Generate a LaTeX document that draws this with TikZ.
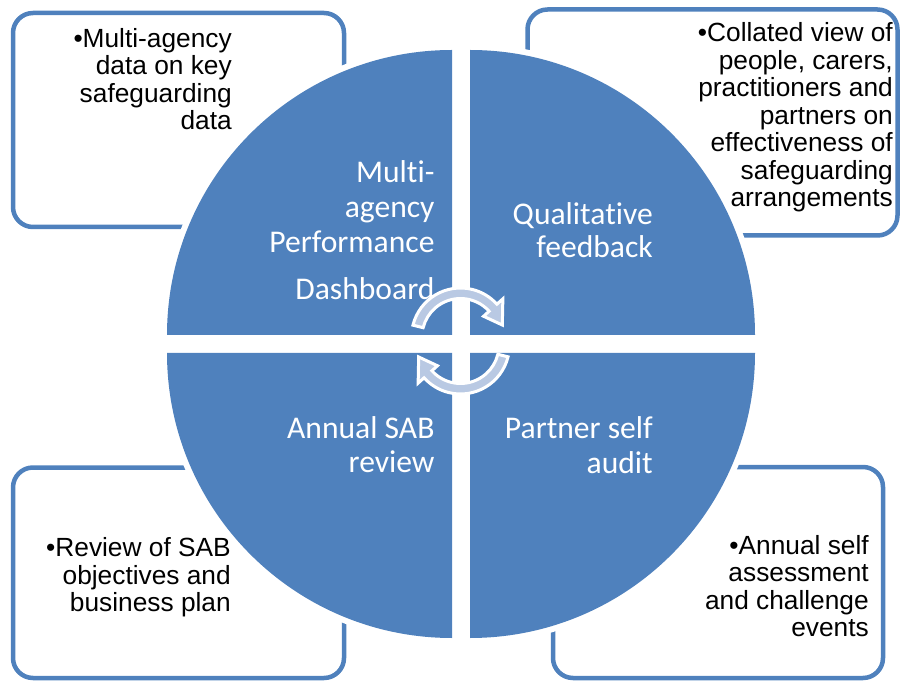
\documentclass[tikz,border=0pt]{standalone}
\usepackage{fontspec}
\setmainfont{Liberation Sans}
\newfontfamily\circfont[Ligatures=NoCommon]{Carlito}
\definecolor{qblue}{HTML}{4F81BD}
\definecolor{arrowfill}{HTML}{B9C9E3}
\begin{document}
\begin{tikzpicture}[x=1pt,y=1pt,
  box/.style={draw=qblue, line width=4.5pt, rounded corners=20pt},
  boxtext/.style={anchor=base east, align=right, inner sep=0pt, font=\fontsize{26.3}{27.5}\selectfont},
  circtext/.style={anchor=base east, align=right, inner sep=0pt, text=white, font=\circfont\fontsize{31.6}{35}\selectfont},
  halo/.style={fill=white},
  quad/.style={fill=qblue},
  cyc/.style={fill=arrowfill, draw=white, line width=3pt}]
\useasboundingbox (0,0) rectangle (900,681);
% outer boxes
\draw[box] (13,668) rectangle (344,454);
\draw[box] (527.5,671.5) rectangle (897.5,445.5);
\draw[box] (13,213.5) rectangle (344,3);
\draw[box] (553,214) rectangle (883,3);
% box texts (anchored at the baseline of the last line)
\node[boxtext] (t1) at (232,551) {•Multi-agency\\data on key\\safeguarding\\data};
\node[boxtext] (t2) at (893,474.3) {•Collated view of\\people, carers,\\practitioners and\\partners on\\effectiveness of\\safeguarding\\arrangements};
\node[boxtext] (t3) at (231,69.3) {•Review of SAB\\objectives and\\business plan};
\node[boxtext] (t4) at (869,44.3) {•Annual self\\assessment\\and challenge\\events};
% white halos
\fill[halo] (452,346) -- ++(-291,0) arc[start angle=180,end angle=90,radius=291] -- cycle;
\fill[halo] (470,346) -- ++(0,291) arc[start angle=90,end angle=0,radius=291] -- cycle;
\fill[halo] (452,328) -- ++(0,-291) arc[start angle=270,end angle=180,radius=291] -- cycle;
\fill[halo] (470,328) -- ++(291,0) arc[start angle=0,end angle=-90,radius=291] -- cycle;
% quadrants
\fill[quad] (452,346) -- ++(-285,0) arc[start angle=180,end angle=90,radius=285] -- cycle;
\fill[quad] (470,346) -- ++(0,285) arc[start angle=90,end angle=0,radius=285] -- cycle;
\fill[quad] (452,328) -- ++(0,-285) arc[start angle=270,end angle=180,radius=285] -- cycle;
\fill[quad] (470,328) -- ++(285,0) arc[start angle=0,end angle=-90,radius=285] -- cycle;
% circle texts
\node[circtext] (c1) at (434.7,381) {Multi-\\agency\\Performance\\[12pt]Dashboard};
\node[circtext] (c2) at (653,423) {Qualitative\\[-1.5pt]feedback};
\node[circtext] (c3) at (434.7,208) {Annual SAB\\review};
\node[circtext] (c4) at (653,207.4) {Partner self\\audit};
% cycle arrows
\begin{scope}[shift={(460.5,344)}]
\draw[cyc] (166:49) arc[start angle=166,end angle=42,radius=49] -- (42:57) -- (16:43.5) -- (42:31) -- (42:38.5) arc[start angle=42,end angle=166,radius=38.5] -- cycle;
\end{scope}
\begin{scope}[shift={(460.5,336)}]
\draw[cyc] (346:49) arc[start angle=346,end angle=222,radius=49] -- (222:57) -- (196:43.5) -- (222:31) -- (222:38.5) arc[start angle=222,end angle=346,radius=38.5] -- cycle;
\end{scope}
\end{tikzpicture}
\end{document}
